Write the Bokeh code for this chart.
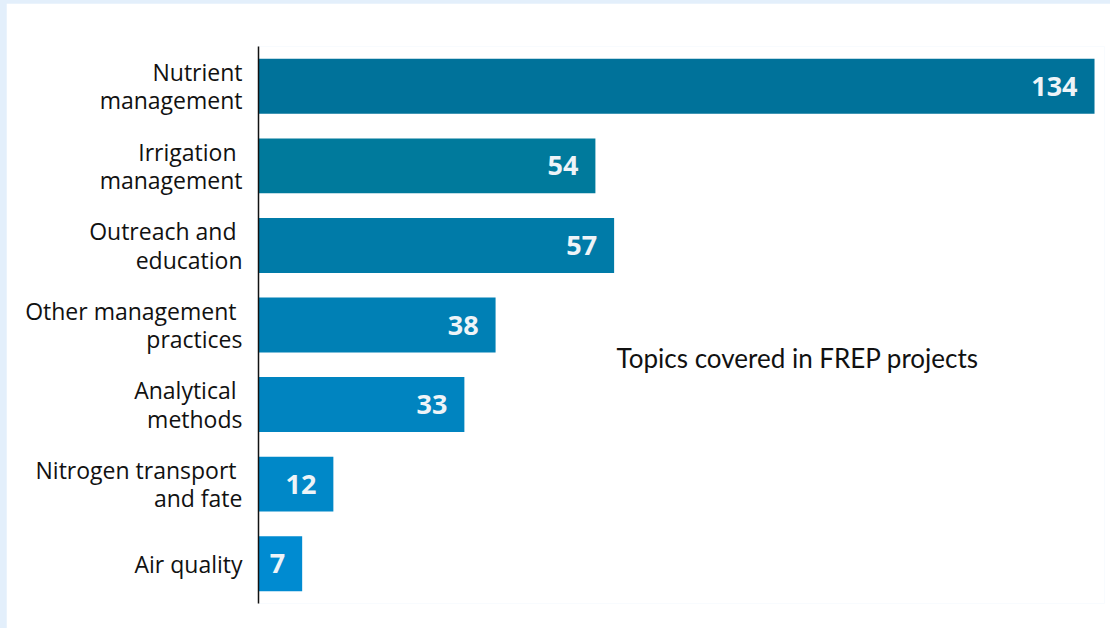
from bokeh.plotting import figure
from bokeh.layouts import column
from bokeh.models import Range1d, FactorRange, Label, ColumnDataSource
from bokeh.core.properties import value
from bokeh.embed import file_html
from bokeh.resources import INLINE

categories = ["Nutrient\nmanagement", "Irrigation \nmanagement", "Outreach and \neducation",
              "Other management \npractices", "Analytical \nmethods", "Nitrogen transport \nand fate",
              "Air quality"]
counts = [134, 54, 57, 38, 33, 12, 7]
bar_colors = ["#00729a", "#007a9c", "#007ba8", "#0080b5", "#0084c0", "#0088c8", "#008bd1"]
title_text = "Topics covered in FREP projects"

src = ColumnDataSource(dict(cat=categories, n=counts, c=bar_colors, lbl=[str(v) for v in counts]))

p = figure(width=1104, height=625, output_backend="svg", toolbar_location=None,
           x_range=Range1d(0, 135.6), y_range=FactorRange(*categories[::-1], range_padding=0),
           min_border_left=252, min_border_right=6, min_border_top=43, min_border_bottom=25,
           background_fill_color="white", border_fill_color="white", outline_line_color=None,
           margin=(3, 0, 0, 6))
p.grid.visible = False
p.xaxis.visible = False

ya = p.yaxis[0]
ya.axis_line_color = "#111111"
ya.axis_line_width = 1.5
ya.major_tick_line_color = None
ya.minor_tick_line_color = None
ya.major_tick_out = 0
ya.major_tick_in = 0
ya.major_label_standoff = 16
ya.major_label_text_font = "Open Sans"
ya.major_label_text_font_size = "23px"
ya.major_label_text_color = "#111111"
ya.major_label_text_line_height = 0.88

p.hbar(y="cat", left=0, right="n", height=0.69, fill_color="c", line_color=None, source=src)
p.text(x="n", y="cat", text="lbl", x_offset=-17, text_align="right", text_baseline="middle",
       text_color="#eef4f8", text_font=value("Open Sans"), text_font_style="bold",
       text_font_size="27px", source=src)

p.add_layout(Label(x=57.4, y=3.08, text=title_text, text_baseline="middle", text_align="left",
                   text_font="Lato", text_font_size="26px", text_color="#111111"))

page = column(p, styles={"background-color": "#e3effb"}, width=1110, height=628)

open("out.html", "w").write(file_html(page, INLINE))
